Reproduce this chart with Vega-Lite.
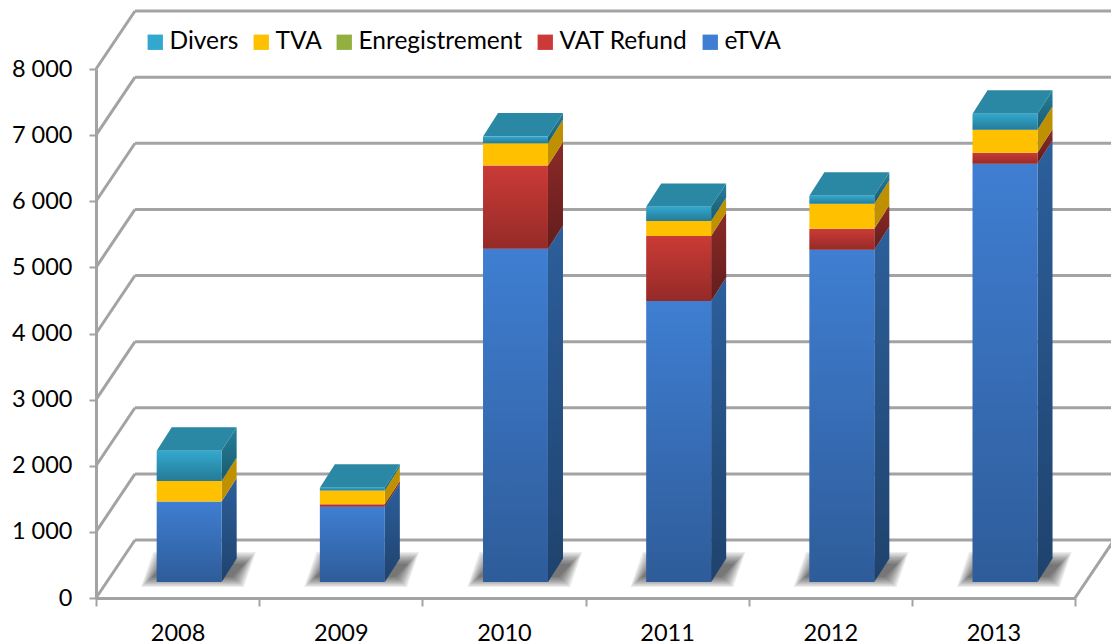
{"$schema":"https://vega.github.io/schema/vega-lite/v6.json","width":979,"height":529,"autosize":"none","padding":{"left":96,"top":69,"right":36,"bottom":46},"background":"white",
"datasets":{"bars":[
{"year":2008,"series":"eTVA","order":1,"value":1218},{"year":2008,"series":"VAT Refund","order":2,"value":0},{"year":2008,"series":"Enregistrement","order":3,"value":0},{"year":2008,"series":"TVA","order":4,"value":310},{"year":2008,"series":"Divers","order":5,"value":458},
{"year":2009,"series":"eTVA","order":1,"value":1139},{"year":2009,"series":"VAT Refund","order":2,"value":35},{"year":2009,"series":"Enregistrement","order":3,"value":0},{"year":2009,"series":"TVA","order":4,"value":210},{"year":2009,"series":"Divers","order":5,"value":40},
{"year":2010,"series":"eTVA","order":1,"value":5038},{"year":2010,"series":"VAT Refund","order":2,"value":1260},{"year":2010,"series":"Enregistrement","order":3,"value":0},{"year":2010,"series":"TVA","order":4,"value":339},{"year":2010,"series":"Divers","order":5,"value":100},
{"year":2011,"series":"eTVA","order":1,"value":4251},{"year":2011,"series":"VAT Refund","order":2,"value":983},{"year":2011,"series":"Enregistrement","order":3,"value":0},{"year":2011,"series":"TVA","order":4,"value":227},{"year":2011,"series":"Divers","order":5,"value":212},
{"year":2012,"series":"eTVA","order":1,"value":5023},{"year":2012,"series":"VAT Refund","order":2,"value":318},{"year":2012,"series":"Enregistrement","order":3,"value":0},{"year":2012,"series":"TVA","order":4,"value":378},{"year":2012,"series":"Divers","order":5,"value":121},
{"year":2013,"series":"eTVA","order":1,"value":6324},{"year":2013,"series":"VAT Refund","order":2,"value":166},{"year":2013,"series":"Enregistrement","order":3,"value":0},{"year":2013,"series":"TVA","order":4,"value":348},{"year":2013,"series":"Divers","order":5,"value":242}
],"levels":[{"level":0},{"level":1000},{"level":2000},{"level":3000},{"level":4000},{"level":5000},{"level":6000},{"level":7000},{"level":8000}]},
"config":{"view":{"stroke":null},"font":"Lato","axis":{"grid":false,"title":null}},
"resolve":{"scale":{"color":"independent"}},
"layer":[
{"data":{"name":"levels"},"transform":[{"calculate":"datum.level+877","as":"back"}],"mark":{"type":"rule","color":"#A3A3A3","strokeWidth":3},
"encoding":{"x":{"datum":0,"type":"quantitative","scale":{"domain":[0,6],"nice":false},
"axis":{"values":[0,1,2,3,4,5,6],"labelExpr":"datum.value<6?''+(2008+datum.value):''","labelOffset":81.6,"labelFontSize":23.5,"labelColor":"#000","labelFont":"Lato","labelPadding":15,"tickSize":8,"tickColor":"#A3A3A3","tickWidth":2,"domainColor":"#A3A3A3","domainWidth":3,"labelOverlap":false,"labelFlush":false,"labelBound":false}},
"x2":{"datum":0.239},
"y":{"field":"level","type":"quantitative","scale":{"domain":[0,8000],"nice":false},
"axis":{"values":[0,1000,2000,3000,4000,5000,6000,7000,8000],"labelExpr":"replace(format(datum.value,','),',',' ')","labelFontSize":23.5,"labelColor":"#000","labelFont":"Lato","labelPadding":17,"tickSize":7,"tickColor":"#A3A3A3","tickWidth":2,"domainColor":"#A3A3A3","domainWidth":3,"labelOverlap":false,"labelBound":false}},
"y2":{"field":"back"}}},
{"data":{"name":"levels"},"transform":[{"calculate":"datum.level+877","as":"back"}],"mark":{"type":"rule","color":"#A3A3A3","strokeWidth":3},
"encoding":{"x":{"datum":0.239,"type":"quantitative","scale":{"domain":[0,6],"nice":false}},"x2":{"datum":6.25},"y":{"field":"back","type":"quantitative","scale":{"domain":[0,8000],"nice":false}}}},
{"data":{"values":[{"level":0,"back":877}]},"mark":{"type":"rule","color":"#A3A3A3","strokeWidth":3},
"encoding":{"x":{"datum":6,"type":"quantitative","scale":{"domain":[0,6],"nice":false}},"x2":{"datum":6.239},"y":{"field":"level","type":"quantitative","scale":{"domain":[0,8000],"nice":false}},"y2":{"field":"back"}}},
{"data":{"name":"bars"},"transform":[{"filter":"datum.order==1"},{"calculate":"[0,1,2,3,4,5,6,7,8,9]","as":"k"},{"flatten":["k"]},{"calculate":"[0,1,2,3]","as":"t"},{"flatten":["t"]},{"calculate":"datum.year-2008+(datum.t==0?0.276+0.0075*datum.k:datum.t==1?0.35+0.0075*datum.k:datum.t==2?0.906-0.0075*datum.k:0.98-0.0075*datum.k)","as":"sx"},{"calculate":"datum.t==3?696-20*datum.k:166+17*datum.k","as":"sy0"},{"calculate":"datum.t==0?166+17*datum.k:696-20*datum.k","as":"sy1"}],
"mark":{"type":"area","orient":"vertical","color":"#000000","opacity":0.07},
"encoding":{"x":{"field":"sx","type":"quantitative","scale":{"domain":[0,6],"nice":false}},"y":{"field":"sy1","type":"quantitative","stack":null,"scale":{"domain":[0,8000],"nice":false}},"y2":{"field":"sy0"},"detail":[{"field":"year"},{"field":"k"}]}},
{"data":{"name":"bars"},"transform":[{"stack":"value","groupby":["year"],"sort":[{"field":"order","order":"ascending"}],"as":["v0","v1"]},{"calculate":"[0,1]","as":"t"},{"flatten":["t"]},{"calculate":"datum.year-2008+0.770+0.092*datum.t","as":"sx"},{"calculate":"datum.v0+242+355*datum.t","as":"sy0"},{"calculate":"datum.v1+242+355*datum.t","as":"sy1"}],
"mark":{"type":"area","orient":"vertical"},
"encoding":{"x":{"field":"sx","type":"quantitative","scale":{"domain":[0,6],"nice":false}},"y":{"field":"sy1","type":"quantitative","stack":null,"scale":{"domain":[0,8000],"nice":false}},"y2":{"field":"sy0"},"detail":[{"field":"year"},{"field":"series"}],
"color":{"field":"series","type":"nominal","legend":null,"scale":{"domain":["Divers","TVA","Enregistrement","VAT Refund","eTVA"],"range":["#25809C","#BF9000","#76923C","#8C2A28","#2C5F9C"]}}}},
{"data":{"name":"bars"},"transform":[{"stack":"value","groupby":["year"],"sort":[{"field":"order","order":"ascending"}],"as":["v0","v1"]},{"filter":"datum.order!=4 && datum.value>0"},{"calculate":"[0,1]","as":"t"},{"flatten":["t"]},{"calculate":"datum.year-2008+0.770+0.092*datum.t","as":"sx"},{"calculate":"datum.v0+242+355*datum.t","as":"sy0"},{"calculate":"datum.v1+242+355*datum.t","as":"sy1"}],
"mark":{"type":"area","orient":"vertical","fill":{"gradient":"linear","x1":0,"y1":0,"x2":0,"y2":1,"stops":[{"offset":0,"color":"rgba(0,0,0,0)"},{"offset":1,"color":"rgba(0,0,0,0.3)"}]}},
"encoding":{"x":{"field":"sx","type":"quantitative","scale":{"domain":[0,6],"nice":false}},"y":{"field":"sy1","type":"quantitative","stack":null,"scale":{"domain":[0,8000],"nice":false}},"y2":{"field":"sy0"},"detail":[{"field":"year"},{"field":"series"}]}},
{"data":{"name":"bars"},"transform":[{"stack":"value","groupby":["year"],"sort":[{"field":"order","order":"ascending"}],"as":["v0","v1"]},{"filter":"datum.order==5"},{"calculate":"[0,1,2,3]","as":"t"},{"flatten":["t"]},{"calculate":"datum.year-2008+(datum.t==0?0.372:datum.t==1?0.464:datum.t==2?0.770:0.862)","as":"sx"},{"calculate":"datum.v1+242+(datum.t==3?355:0)","as":"sy0"},{"calculate":"datum.v1+242+(datum.t==0?0:355)","as":"sy1"}],
"mark":{"type":"area","orient":"vertical","color":"#2A88A5"},
"encoding":{"x":{"field":"sx","type":"quantitative","scale":{"domain":[0,6],"nice":false}},"y":{"field":"sy1","type":"quantitative","stack":null,"scale":{"domain":[0,8000],"nice":false}},"y2":{"field":"sy0"},"detail":{"field":"year"}}},
{"data":{"name":"bars"},"transform":[{"stack":"value","groupby":["year"],"sort":[{"field":"order","order":"ascending"}],"as":["v0","v1"]},{"calculate":"datum.year-2008+0.372","as":"fx0"},{"calculate":"datum.year-2008+0.770","as":"fx1"},{"calculate":"datum.v0+242","as":"fy0"},{"calculate":"datum.v1+242","as":"fy1"}],
"mark":{"type":"rect"},
"encoding":{"x":{"field":"fx0","type":"quantitative","scale":{"domain":[0,6],"nice":false}},"x2":{"field":"fx1"},"y":{"field":"fy1","type":"quantitative","scale":{"domain":[0,8000],"nice":false}},"y2":{"field":"fy0"},
"color":{"field":"series","type":"nominal","scale":{"domain":["Divers","TVA","Enregistrement","VAT Refund","eTVA"],"range":["#32A8CE","#FFC000","#92B040","#CB3A36","#3F7ED2"]},
"legend":{"title":null,"orient":"none","legendX":47,"legendY":-39,"direction":"horizontal","columns":5,"symbolType":"square","symbolSize":235,"symbolStrokeWidth":0,"labelFontSize":24.5,"labelFont":"Lato","labelColor":"#000","labelOffset":2,"labelLimit":300,"columnPadding":10,"padding":0,"gridAlign":"none"}}}},
{"data":{"name":"bars"},"transform":[{"stack":"value","groupby":["year"],"sort":[{"field":"order","order":"ascending"}],"as":["v0","v1"]},{"filter":"datum.order!=4 && datum.value>0"},{"calculate":"datum.year-2008+0.372","as":"fx0"},{"calculate":"datum.year-2008+0.770","as":"fx1"},{"calculate":"datum.v0+242","as":"fy0"},{"calculate":"datum.v1+242","as":"fy1"}],
"mark":{"type":"rect","fill":{"gradient":"linear","x1":0,"y1":0,"x2":0,"y2":1,"stops":[{"offset":0,"color":"rgba(0,0,0,0)"},{"offset":1,"color":"rgba(0,0,0,0.27)"}]}},
"encoding":{"x":{"field":"fx0","type":"quantitative","scale":{"domain":[0,6],"nice":false}},"x2":{"field":"fx1"},"y":{"field":"fy1","type":"quantitative","scale":{"domain":[0,8000],"nice":false}},"y2":{"field":"fy0"}}}
]}
